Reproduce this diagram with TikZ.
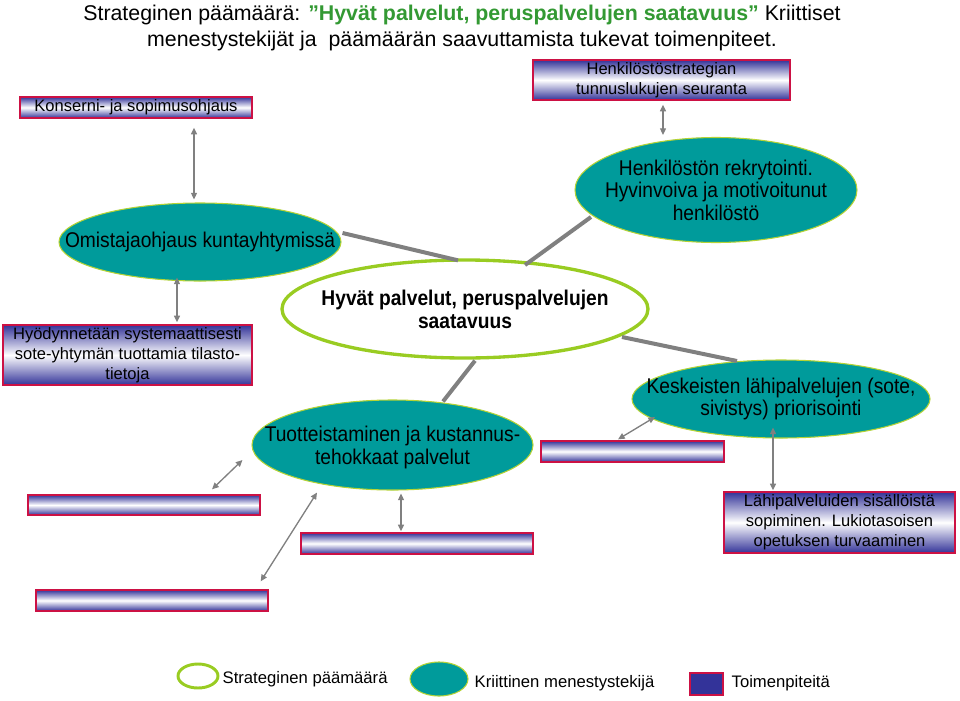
\documentclass[tikz,border=0pt]{standalone}
\usepackage{fontspec}
\setmainfont{Liberation Sans}
\newfontfamily\tallfont[FakeStretch=0.9]{Liberation Sans}
\usetikzlibrary{arrows.meta, shapes.geometric, calc}
\definecolor{cteal}{HTML}{009B9B}
\definecolor{clime}{HTML}{B5D335}
\definecolor{cgreen}{HTML}{99CC22}
\definecolor{cblue}{HTML}{333399}
\definecolor{cred}{HTML}{CC1144}
\definecolor{ctitle}{HTML}{339933}
\definecolor{cgrey}{HTML}{808080}
\tikzset{
  every picture/.style={line width=1pt},
  factor/.style={ellipse, draw=clime, fill=cteal, line width=0.8pt, inner sep=0pt},
  goal/.style={ellipse, draw=cgreen, fill=white, line width=2.5pt, inner sep=0pt},
  ftext/.style={align=center, inner sep=0pt, font=\tallfont\fontsize{16}{16.9}\selectfont},
  action/.style={draw=cred, line width=1pt, top color=cblue, bottom color=cblue, middle color=white,
    align=center, inner sep=0pt, font=\fontsize{12.4}{15}\selectfont},
  arrow/.style={{Triangle[length=5pt, width=4.5pt]}-{Triangle[length=5pt, width=4.5pt]}, draw=cgrey, line width=1pt},
  link/.style={draw=cgrey, line width=3pt},
  legend/.style={anchor=west, inner sep=0pt, font=\fontsize{12.5}{15}\selectfont},
  title/.style={align=center, inner sep=0pt, font=\fontsize{16}{19.2}\selectfont},
}

\begin{document}
\begin{tikzpicture}[x=0.75pt, y=-0.75pt]
  \useasboundingbox (0,0) rectangle (960,700);
  % ---------- title
  \node[title] (head) at (462,28) {Strateginen päämäärä: \textcolor{ctitle}{\textbf{”Hyvät palvelut, peruspalvelujen saatavuus”}} Kriittiset\\menestystekijät ja\ \ päämäärän saavuttamista tukevat toimenpiteet.};
  % ---------- strategic goal and critical factors
  \node[goal, minimum width=274.5pt, minimum height=73.5pt] (goal) at (465,309) {};
  \node[ftext, font=\tallfont\fontsize{16}{17.25}\selectfont\bfseries] (goalT) at (goal) {Hyvät palvelut, peruspalvelujen\\saatavuus};
  \node[factor, minimum width=211.5pt, minimum height=58.5pt] (own) at (200,242) {};
  \node[ftext] (ownT) at (own) {Omistajaohjaus kuntayhtymissä};
  \node[factor, minimum width=211.5pt, minimum height=78.75pt] (staff) at (716,190) {};
  \node[ftext] (staffT) at (staff) {Henkilöstön rekrytointi.\\Hyvinvoiva ja motivoitunut\\henkilöstö};
  \node[factor, minimum width=210.75pt, minimum height=67.5pt] (prod) at (392.5,445) {};
  \node[ftext] (prodT) at ($(prod)+(0,2.5)$) {Tuotteistaminen ja kustannus-\\tehokkaat palvelut};
  \node[factor, minimum width=223.5pt, minimum height=58.5pt] (local) at (781,399) {};
  \node[ftext] (localT) at (local) {Keskeisten lähipalvelujen (sote,\\sivistys) priorisointi};
  % ---------- actions
  \node[action, minimum width=174pt, minimum height=15.75pt] (konserni) at (136,107.5) {Konserni- ja sopimusohjaus};
  \node[action, minimum width=192.75pt, minimum height=30pt] (strat) at (661.5,80) {Henkilöstöstrategian\\tunnuslukujen seuranta};
  \node[action, minimum width=186.75pt, minimum height=45pt] (data) at (127.5,355) {Hyödynnetään systemaattisesti\\sote-yhtymän tuottamia tilasto-\\tietoja};
  \node[action, minimum width=173.25pt, minimum height=45.75pt] (lahi) at (839.5,522.5) {Lähipalveluiden sisällöistä\\sopiminen. Lukiotasoisen\\opetuksen turvaaminen};
  \node[action, minimum width=174pt, minimum height=15pt] (boxA) at (144,505) {};
  \node[action, minimum width=174pt, minimum height=15.75pt] (boxB) at (152,600.5) {};
  \node[action, minimum width=174pt, minimum height=15.75pt] (boxC) at (417,543.5) {};
  \node[action, minimum width=137.25pt, minimum height=15.75pt] (boxD) at (632.5,451.5) {};
  % ---------- links goal -- factors
  \draw[link] ($(own.east)+(1,-9)$) -- ($(goal.north)+(-7,2)$);
  \draw[link] ($(goal.center)+(60,-44)$) -- ($(staff.center)+(-125,27)$);
  \draw[link] ($(goal.south)+(10,1)$) -- ($(prod.north)+(50.5,2)$);
  \draw[link] ($(goal.center)+(157,28)$) -- ($(local.center)+(-44,-38)$);
  % ---------- arrows factors -- actions
  \draw[arrow] ($(konserni.south)+(58,9)$) -- ($(own.north)+(-6,-3)$);
  \draw[arrow] ($(strat.south)+(1.5,4)$) -- ($(staff.north)+(-53,-2)$);
  \draw[arrow] ($(own.south)+(-23,-4)$) -- ($(data.north)+(49.5,-2)$);
  \draw[arrow] ($(prod.west)+(-9,15)$) -- ($(boxA.north)+(68,-5)$);
  \draw[arrow] ($(prod.south)+(-75.5,2)$) -- ($(boxB.north east)+(-8,-8)$);
  \draw[arrow] ($(prod.south)+(8.5,3)$) -- ($(boxC.north)+(-16,-1)$);
  \draw[arrow] ($(local.center)+(-126,18)$) -- ($(boxD.north)+(-14.5,-1)$);
  \draw[arrow] ($(local.south)+(-8,-11)$) -- ($(lahi.north)+(-66.5,-1)$);
  % ---------- legend
  \node[goal, line width=2.2pt, minimum width=30pt, minimum height=18pt] (lgGoal) at (198,676) {};
  \node[legend] (lgGoalT) at (222,679) {Strateginen päämäärä};
  \node[factor, minimum width=43.5pt, minimum height=25.5pt] (lgFactor) at (439,679) {};
  \node[legend] (lgFactorT) at (474,683) {Kriittinen menestystekijä};
  \node[draw=cred, fill=cblue, line width=1pt, minimum width=24.75pt, minimum height=16.5pt, inner sep=0pt] (lgAction) at (706.5,684) {};
  \node[legend] (lgActionT) at (731,683) {Toimenpiteitä};
\end{tikzpicture}
\end{document}
